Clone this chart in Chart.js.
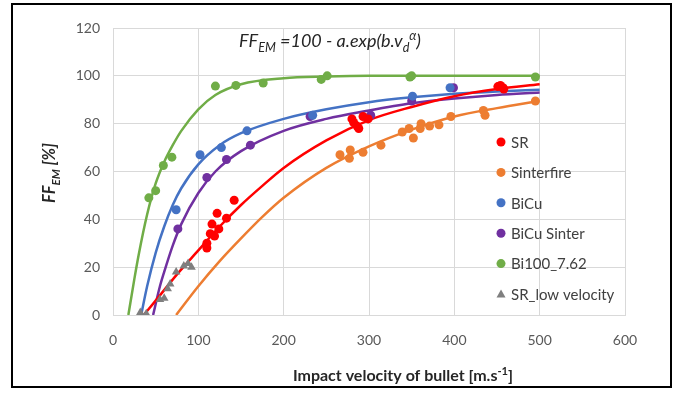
<!DOCTYPE html>
<html>
<head>
<meta charset="utf-8">
<script src="https://cdn.jsdelivr.net/npm/chart.js@4.4.1/dist/chart.umd.min.js"></script>
<style>
  body { margin: 0; background: #fff; }
  canvas { display: block; }
</style>
</head>
<body>
<canvas id="myChart" width="684" height="394"></canvas>
<script>
// axis ticks
const xTicks = [0, 100, 200, 300, 400, 500, 600];
const yTicks = [0, 20, 40, 60, 80, 100, 120];

// measured points (velocity, FF_EM)
const srV = [110, 110, 114, 116, 119, 122, 124, 133, 142, 280, 282, 286, 288, 293, 299, 451, 454, 457, 458];
const srF = [28, 30, 34, 38, 33, 42.5, 36, 40.5, 48, 82, 80.5, 79, 78, 83, 82, 95.5, 96, 95, 94.5];
const sinterV = [266, 277, 278, 293, 314, 339, 347, 352, 360, 361, 371, 382, 396, 434, 436, 495];
const sinterF = [67, 65.5, 69, 68, 71, 76.5, 78, 74, 78, 80, 79, 79.5, 83, 85.5, 83.5, 89.5];
const bicuV = [74, 102, 127, 157, 234, 351, 395];
const bicuF = [44, 67, 70, 77, 83.5, 91.5, 95];
const bicuSinterV = [76, 110, 133, 161, 231, 302, 350, 399];
const bicuSinterF = [36, 57.5, 65, 71, 83, 83.5, 89.5, 95];
const biV = [42, 50, 59, 69, 120, 144, 176, 244, 251, 348, 350, 495];
const biF = [49, 52, 62.5, 66, 95.7, 96, 97, 98.5, 100, 99.5, 100, 99.5];
const lowV = [32, 39, 55, 60, 64, 67, 74, 83, 88, 92];
const lowF = [1, 0.5, 6.5, 7, 11, 13, 18, 20.5, 21.5, 20];

// fitted trend curves
const srFitV = [36, 50, 75, 100, 125, 150, 175, 200, 250, 300, 350, 400, 450, 500];
const srFitF = [0, 6, 17, 27, 37, 46, 54, 61.5, 73, 81.5, 87, 91.5, 94.5, 96.5];
const sinterFitV = [74, 100, 125, 150, 175, 200, 250, 300, 350, 400, 450, 500];
const sinterFitF = [0, 12, 22.5, 32, 41, 49, 61.5, 70.5, 77.5, 83, 86.5, 89.5];
const bicuFitV = [33, 40, 50, 60, 70, 80, 100, 125, 150, 200, 250, 300, 350, 400, 450, 500];
const bicuFitF = [0, 12, 26, 37, 46, 53, 63, 71, 76, 82, 86, 89, 91, 92.5, 93.5, 94.2];
const bicuSinterFitV = [47, 55, 60, 70, 80, 100, 120, 150, 200, 250, 300, 350, 400, 450, 500];
const bicuSinterFitF = [0, 12, 18, 29, 38, 51, 60, 68.5, 77, 82, 85.5, 88.5, 90.5, 92, 93];
const biFitV = [18, 25, 30, 40, 50, 60, 70, 80, 100, 120, 150, 200, 250, 300, 400, 500];
const biFitF = [0, 15, 25, 42, 55, 64, 71, 77, 86, 92, 96.5, 99, 99.7, 100, 100, 100];

const seriesNames = ["SR", "Sinterfire", "BiCu", "BiCu Sinter", "Bi100_7.62", "SR_low velocity"];
const seriesColors = ["#ff0000", "#ed7d31", "#4472c4", "#7030a0", "#70ad47", "#7f7f7f"];

const toPts = (xs, ys) => xs.map((x, i) => ({ x: x, y: ys[i] }));

const pointSets = [
    [srV, srF], [sinterV, sinterF], [bicuV, bicuF],
    [bicuSinterV, bicuSinterF], [biV, biF], [lowV, lowF]
];
const fitSets = [
    [srFitV, srFitF], [sinterFitV, sinterFitF], [bicuFitV, bicuFitF],
    [bicuSinterFitV, bicuSinterFitF], [biFitV, biFitF]
];

const datasets = [];
pointSets.forEach((s, i) => {
    datasets.push({
        label: seriesNames[i],
        data: toPts(s[0], s[1]),
        showLine: false,
        pointStyle: i === 5 ? "triangle" : "circle",
        pointRadius: i === 5 ? 5 : 4.5,
        backgroundColor: seriesColors[i],
        borderColor: seriesColors[i],
        borderWidth: 0,
        isPoints: true,
    });
});
fitSets.forEach((s, i) => {
    datasets.push({
        label: seriesNames[i] + " fit",
        data: toPts(s[0], s[1]),
        showLine: true,
        pointRadius: 0,
        borderColor: seriesColors[i],
        borderWidth: 2.5,
        cubicInterpolationMode: "monotone",
        fill: false,
    });
});

const FONT = "Lato, 'Open Sans', sans-serif";

// draws text made of normal / sub / sup pieces, centred on x
function drawRich(ctx, parts, x, y, size, style) {
    const widths = parts.map((p) => {
        const s = p[1] ? size * 0.7 : size;
        ctx.font = style + " " + s + "px " + FONT;
        return ctx.measureText(p[0]).width;
    });
    let cx = x - widths.reduce((a, b) => a + b, 0) / 2;
    parts.forEach((p, i) => {
        const s = p[1] ? size * 0.7 : size;
        ctx.font = style + " " + s + "px " + FONT;
        let dy = 0;
        if (p[1] === "sub") dy = size * 0.3;
        if (p[1] === "sup") dy = -size * 0.4;
        ctx.fillText(p[0], cx, y + dy);
        cx += widths[i];
    });
}

const extrasPlugin = {
    id: "extras",
    afterDraw(chart) {
        const ctx = chart.ctx;
        ctx.save();
        ctx.textBaseline = "alphabetic";
        ctx.textAlign = "left";
        ctx.fillStyle = "#262626";

        // formula
        drawRich(ctx, [["FF", ""], ["EM", "sub"], [" =100 - a.exp(b.v", ""], ["d", "sub"], ["α", "sup"], [")", ""]],
            330, 47, 18, "italic");

        // x title
        drawRich(ctx, [["Impact velocity of bullet [m.s", ""], ["-1", "sup"], ["]", ""]], 403, 381, 16, "bold");

        // y title
        ctx.save();
        ctx.translate(55, 173);
        ctx.rotate(-Math.PI / 2);
        drawRich(ctx, [["FF", ""], ["EM", "sub"], [" [%]", ""]], 0, 0, 16.5, "italic bold");
        ctx.restore();

        // legend
        const lx = 501, ly = 142, step = 30.4;
        chart.data.datasets.filter((d) => d.isPoints).forEach((d, i) => {
            const y = ly + i * step;
            ctx.fillStyle = d.backgroundColor;
            ctx.beginPath();
            if (d.pointStyle === "triangle") {
                ctx.moveTo(lx, y - 4.5);
                ctx.lineTo(lx + 4.5, y + 3.5);
                ctx.lineTo(lx - 4.5, y + 3.5);
                ctx.closePath();
            } else {
                ctx.arc(lx, y, 4.5, 0, Math.PI * 2);
            }
            ctx.fill();
            ctx.fillStyle = "#404040";
            ctx.font = "15px " + FONT;
            ctx.textBaseline = "middle";
            ctx.fillText(d.label, lx + 10, y + 1);
        });

        // outer frame
        ctx.strokeStyle = "#000";
        ctx.lineWidth = 2;
        ctx.strokeRect(12, 4, 659, 383);
        ctx.restore();
    },
};

const ctx = document.getElementById("myChart").getContext("2d");
const myChart = new Chart(ctx, {
    type: "scatter",
    data: { datasets: datasets },
    options: {
        responsive: false,
        animation: false,
        devicePixelRatio: 1,
        layout: { padding: { left: 12, top: 28, right: 59, bottom: 0 } },
        plugins: { legend: { display: false }, tooltip: { enabled: false } },
        scales: {
            x: {
                type: "linear",
                min: xTicks[0],
                max: xTicks[xTicks.length - 1],
                afterBuildTicks: (s) => { s.ticks = xTicks.map((v) => ({ value: v })); },
                afterFit: (s) => { s.height = 79; },
                grid: { color: "#d9d9d9", drawTicks: false },
                border: { color: "#d9d9d9" },
                ticks: { padding: 17, color: "#595959", font: { family: FONT, size: 14 } },
            },
            y: {
                min: yTicks[0],
                max: yTicks[yTicks.length - 1],
                afterBuildTicks: (s) => { s.ticks = yTicks.map((v) => ({ value: v })); },
                afterFit: (s) => { s.width = 101; },
                grid: { color: "#d9d9d9", drawTicks: false },
                border: { color: "#d9d9d9" },
                ticks: { padding: 13, color: "#595959", font: { family: FONT, size: 14 } },
            },
        },
    },
    plugins: [extrasPlugin],
});
</script>
</body>
</html>
